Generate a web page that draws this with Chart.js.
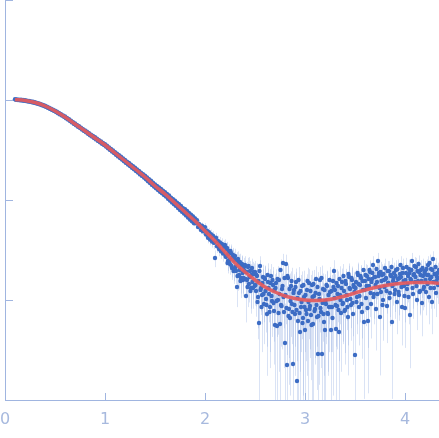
<!DOCTYPE html>
<html><head><meta charset="utf-8">
<script src="https://cdn.jsdelivr.net/npm/chart.js@4/dist/chart.umd.min.js"></script>
<style>html,body{margin:0;padding:0;background:#fff}#wrap{position:relative;width:439px;height:438px}</style>
</head><body><div id="wrap"><canvas id="c"></canvas></div>
<script>
// scattering vector q (x) values
const q = [
0.10,0.11,0.12,0.13,0.14,0.15,0.16,0.17,0.18,0.19,
0.20,0.21,0.22,0.23,0.24,0.25,0.26,0.27,0.28,0.29,
0.30,0.31,0.32,0.33,0.34,0.35,0.36,0.37,0.38,0.39,
0.40,0.41,0.42,0.43,0.44,0.45,0.46,0.47,0.48,0.49,
0.50,0.51,0.52,0.53,0.54,0.55,0.56,0.57,0.58,0.59,
0.60,0.61,0.62,0.63,0.64,0.65,0.66,0.67,0.68,0.69,
0.70,0.71,0.72,0.73,0.74,0.75,0.76,0.77,0.78,0.79,
0.80,0.81,0.82,0.83,0.84,0.85,0.86,0.87,0.88,0.89,
0.90,0.91,0.92,0.93,0.94,0.95,0.96,0.97,0.98,0.99,
1.00,1.01,1.02,1.03,1.04,1.05,1.06,1.07,1.08,1.09,
1.10,1.11,1.12,1.13,1.14,1.15,1.16,1.17,1.18,1.19,
1.20,1.21,1.22,1.23,1.24,1.25,1.26,1.27,1.28,1.29,
1.30,1.31,1.32,1.33,1.34,1.35,1.36,1.37,1.38,1.39,
1.40,1.41,1.42,1.43,1.44,1.45,1.46,1.47,1.48,1.49,
1.50,1.51,1.52,1.53,1.54,1.55,1.56,1.57,1.58,1.59,
1.60,1.61,1.62,1.63,1.64,1.65,1.66,1.67,1.68,1.69,
1.70,1.71,1.72,1.73,1.74,1.75,1.76,1.77,1.78,1.79,
1.80,1.81,1.82,1.83,1.84,1.85,1.86,1.87,1.88,1.89,
1.90,1.91,1.92,1.93,1.94,1.95,1.96,1.97,1.98,1.99,
2.00,2.01,2.02,2.03,2.04,2.05,2.06,2.07,2.08,2.09,
2.10,2.11,2.12,2.13,2.14,2.15,2.16,2.17,2.18,2.19,
2.200,2.205,2.210,2.215,2.220,2.225,2.230,2.235,2.240,2.245,2.250,2.255,2.260,2.265,2.270,2.275,2.280,2.285,2.290,2.295,
2.300,2.305,2.310,2.315,2.320,2.325,2.330,2.335,2.340,2.345,2.350,2.355,2.360,2.365,2.370,2.375,2.380,2.385,2.390,2.395,
2.400,2.405,2.410,2.415,2.420,2.425,2.430,2.435,2.440,2.445,2.450,2.455,2.460,2.465,2.470,2.475,2.480,2.485,2.490,2.495,
2.500,2.505,2.510,2.515,2.520,2.525,2.530,2.535,2.540,2.545,2.550,2.555,2.560,2.565,2.570,2.575,2.580,2.585,2.590,2.595,
2.600,2.605,2.610,2.615,2.620,2.625,2.630,2.635,2.640,2.645,2.650,2.655,2.660,2.665,2.670,2.675,2.680,2.685,2.690,2.695,
2.700,2.705,2.710,2.715,2.720,2.725,2.730,2.735,2.740,2.745,2.750,2.755,2.760,2.765,2.770,2.775,2.780,2.785,2.790,2.795,
2.800,2.805,2.810,2.815,2.820,2.825,2.830,2.835,2.840,2.845,2.850,2.855,2.860,2.865,2.870,2.875,2.880,2.885,2.890,2.895,
2.900,2.905,2.910,2.915,2.920,2.925,2.930,2.935,2.940,2.945,2.950,2.955,2.960,2.965,2.970,2.975,2.980,2.985,2.990,2.995,
3.000,3.005,3.010,3.015,3.020,3.025,3.030,3.035,3.040,3.045,3.050,3.055,3.060,3.065,3.070,3.075,3.080,3.085,3.090,3.095,
3.100,3.105,3.110,3.115,3.120,3.125,3.130,3.135,3.140,3.145,3.150,3.155,3.160,3.165,3.170,3.175,3.180,3.185,3.190,3.195,
3.200,3.205,3.210,3.215,3.220,3.225,3.230,3.235,3.240,3.245,3.250,3.255,3.260,3.265,3.270,3.275,3.280,3.285,3.290,3.295,
3.300,3.305,3.310,3.315,3.320,3.325,3.330,3.335,3.340,3.345,3.350,3.355,3.360,3.365,3.370,3.375,3.380,3.385,3.390,3.395,
3.400,3.405,3.410,3.415,3.420,3.425,3.430,3.435,3.440,3.445,3.450,3.455,3.460,3.465,3.470,3.475,3.480,3.485,3.490,3.495,
3.500,3.505,3.510,3.515,3.520,3.525,3.530,3.535,3.540,3.545,3.550,3.555,3.560,3.565,3.570,3.575,3.580,3.585,3.590,3.595,
3.600,3.605,3.610,3.615,3.620,3.625,3.630,3.635,3.640,3.645,3.650,3.655,3.660,3.665,3.670,3.675,3.680,3.685,3.690,3.695,
3.700,3.705,3.710,3.715,3.720,3.725,3.730,3.735,3.740,3.745,3.750,3.755,3.760,3.765,3.770,3.775,3.780,3.785,3.790,3.795,
3.800,3.805,3.810,3.815,3.820,3.825,3.830,3.835,3.840,3.845,3.850,3.855,3.860,3.865,3.870,3.875,3.880,3.885,3.890,3.895,
3.900,3.905,3.910,3.915,3.920,3.925,3.930,3.935,3.940,3.945,3.950,3.955,3.960,3.965,3.970,3.975,3.980,3.985,3.990,3.995,
4.000,4.005,4.010,4.015,4.020,4.025,4.030,4.035,4.040,4.045,4.050,4.055,4.060,4.065,4.070,4.075,4.080,4.085,4.090,4.095,
4.100,4.105,4.110,4.115,4.120,4.125,4.130,4.135,4.140,4.145,4.150,4.155,4.160,4.165,4.170,4.175,4.180,4.185,4.190,4.195,
4.200,4.205,4.210,4.215,4.220,4.225,4.230,4.235,4.240,4.245,4.250,4.255,4.260,4.265,4.270,4.275,4.280,4.285,4.290,4.295,
4.300,4.305,4.310,4.315,4.320,4.325,4.330,4.335,4.340
];
// measured log10 intensity
const logI = [
3.008,3.002,3.006,2.999,3.004,2.997,3.002,2.995,3.000,2.993,
2.998,2.990,2.994,2.985,2.991,2.982,2.986,2.978,2.982,2.973,
2.978,2.968,2.971,2.961,2.965,2.954,2.958,2.947,2.951,2.940,
2.944,2.931,2.934,2.921,2.924,2.911,2.914,2.901,2.904,2.891,
2.894,2.880,2.882,2.868,2.871,2.856,2.858,2.844,2.846,2.832,
2.835,2.818,2.820,2.804,2.807,2.789,2.792,2.776,2.779,2.761,
2.765,2.748,2.751,2.733,2.737,2.719,2.723,2.705,2.709,2.691,
2.696,2.677,2.682,2.662,2.669,2.648,2.654,2.634,2.641,2.619,
2.627,2.606,2.613,2.591,2.599,2.577,2.585,2.563,2.571,2.549,
2.558,2.534,2.543,2.517,2.526,2.501,2.511,2.485,2.495,2.469,
2.479,2.453,2.463,2.436,2.448,2.420,2.432,2.404,2.416,2.387,
2.400,2.371,2.384,2.355,2.370,2.339,2.352,2.322,2.337,2.307,
2.322,2.289,2.306,2.274,2.291,2.256,2.273,2.241,2.259,2.224,
2.244,2.208,2.226,2.188,2.209,2.170,2.192,2.151,2.173,2.135,
2.156,2.118,2.141,2.099,2.126,2.083,2.110,2.067,2.093,2.050,
2.079,2.034,2.060,2.013,2.045,1.994,2.024,1.976,2.007,1.958,
1.992,1.941,1.974,1.919,1.957,1.900,1.940,1.882,1.919,1.864,
1.907,1.846,1.890,1.824,1.871,1.804,1.854,1.788,1.835,1.768,
1.815,1.768,1.797,1.729,1.761,1.745,1.700,1.744,1.686,1.721,
1.729,1.655,1.694,1.622,1.677,1.604,1.659,1.585,1.642,1.571,
1.42,1.622,1.538,1.591,1.510,1.576,1.488,1.561,1.465,1.533,
1.55,1.44,1.43,1.51,1.52,1.37,1.39,1.46,1.49,1.40,1.36,1.49,1.47,1.34,1.32,1.43,1.45,1.29,1.31,1.40,
1.44,1.33,1.29,1.40,1.13,1.24,1.41,1.37,1.25,1.30,1.38,1.19,1.22,1.35,1.36,1.27,1.20,1.22,1.33,1.29,
1.35,1.21,1.04,1.28,1.20,1.13,1.33,1.34,1.16,1.23,1.29,1.09,1.12,1.25,1.32,1.18,1.12,1.28,1.26,1.14,
1.28,1.15,1.09,1.25,1.24,0.98,1.03,1.19,0.77,1.29,1.34,1.10,1.12,0.93,1.05,1.17,1.23,1.06,0.96,1.22,
1.21,1.09,1.01,0.95,0.86,1.25,1.18,1.12,1.06,0.88,0.93,1.17,1.24,1.04,0.99,1.20,1.15,0.97,0.89,1.10,
0.75,1.12,1.17,0.99,0.74,1.21,1.00,0.87,1.20,1.06,0.76,1.30,0.95,0.94,1.11,1.14,1.37,1.03,0.88,1.22,
0.57,1.05,1.36,0.92,0.35,1.24,1.22,0.84,0.91,1.11,0.82,0.99,1.14,1.19,0.96,0.88,0.36,1.07,1.10,0.95,
0.86,1.13,1.18,0.90,0.19,1.02,0.79,1.20,1.07,0.87,0.68,1.09,0.93,0.98,1.14,0.77,0.82,1.15,1.03,0.93,
0.70,1.05,0.90,0.86,1.10,1.19,0.79,0.98,1.17,0.91,0.94,1.09,0.85,0.75,1.15,1.03,0.76,1.16,1.04,0.89,
0.91,1.07,1.21,0.95,0.83,1.13,0.46,0.84,1.06,1.01,1.20,0.92,0.88,1.22,0.46,0.97,1.11,0.86,0.78,1.10,
0.70,0.99,0.96,1.15,1.14,0.87,0.86,1.05,0.93,1.20,1.08,0.93,0.70,1.09,0.93,0.82,1.19,1.13,1.29,1.02,
1.10,0.95,0.71,1.17,0.94,1.06,1.14,0.90,0.68,1.21,1.05,1.00,0.87,1.12,1.18,0.96,0.97,1.24,1.09,0.89,
0.90,1.19,1.16,1.05,1.00,0.93,0.83,1.26,1.23,1.12,1.11,1.01,0.95,1.22,1.20,0.97,0.86,1.15,1.13,1.08,
0.45,1.12,1.18,0.98,1.03,1.27,1.25,1.16,0.93,1.04,1.15,1.24,1.22,0.96,0.88,1.19,1.10,1.30,0.78,1.10,
1.19,1.25,1.02,1.14,1.24,0.92,0.79,1.21,1.14,1.30,1.28,1.07,0.96,1.18,1.21,1.27,1.35,1.03,1.06,1.23,
1.23,1.15,0.91,1.31,1.18,1.06,1.39,1.24,1.27,1.12,0.83,1.28,1.08,1.19,1.25,0.95,1.00,1.26,1.20,1.13,
1.32,1.21,1.22,1.09,0.94,1.29,1.17,1.17,1.29,1.02,1.07,1.25,1.24,1.33,0.78,1.14,1.19,1.22,1.27,1.06,
1.10,1.24,1.30,1.17,0.98,1.31,1.21,1.08,1.05,1.22,1.26,1.35,1.23,1.13,0.93,1.27,1.32,1.19,1.14,1.04,
0.92,1.20,1.27,1.33,1.11,1.16,1.24,1.03,1.31,1.27,0.85,1.21,1.20,1.30,1.39,1.12,1.06,1.25,1.26,1.34,
1.18,1.23,1.33,1.14,1.00,1.29,1.19,1.36,1.28,1.08,1.09,1.25,1.30,1.19,0.97,1.32,1.24,1.11,1.13,1.27,
1.29,1.20,1.08,1.31,1.25,1.16,1.35,1.25,1.03,1.37,1.21,1.12,1.31,1.23,0.98,1.30,1.41,1.18,1.12,1.26,
1.26,1.33,1.07,1.19,1.23,1.27,1.15,1.22,1.30
];
// experimental error (intensity units)
const sigma = [
2,2,2,2,2,2,2,2,2,2, 2,2,2,2,2,2,2,2,2,2, 2,2,2,2,2,2,2,2,2,2,
2,2,2,2,2,2,2,2,2,2, 2,2,2,2,2,2,2,2,2,2, 2,2,2,2,2,2,2,2,2,2,
2,2,2,2,2,2,2,2,2,2, 2,2,2,2,2,2,2,2,2,2, 2,2,2,2,2,2,2,2,2,2,
3,3,3,3,3,3,3,3,3,3, 3,3,3,3,3,3,3,3,3,3, 3,3,3,3,3,3,3,3,3,3,
3,3,3,3,3,3,3,3,3,3, 3,3,3,3,3,3,3,3,3,3,
4,4,4,4,4,4,4,4,4,4, 4,4,4,4,4,4,4,4,4,4, 4,4,4,4,4,4,4,4,4,4,
4,4,4,4,4,4,4,4,4,4, 4,4,4,4,4,4,4,4,4,4,
5,5,5,5,5,5,5,5,5,5, 5,5,5,5,5,5,5,5,5,5,
5,5,5,5,5,5,5,5,5,5,5,5,5,5,5,5,5,5,5,5,
5,5,5,5,5,5,5,5,5,5,5,5,5,5,5,5,5,5,5,5,
5,5,5,5,5,5,5,5,5,5,5,5,5,5,5,5,5,5,5,5,
5.5,5.5,5.5,5.5,5.5,5.5,5.5,5.5,5.5,5.5,5.5,5.5,5.5,5.5,5.5,5.5,5.5,5.5,5.5,5.5,
5.5,5.5,5.5,5.5,5.5,5.5,5.5,5.5,5.5,5.5,5.5,5.5,5.5,5.5,5.5,5.5,5.5,5.5,5.5,5.5,
5.5,5.5,5.5,5.5,5.5,5.5,5.5,5.5,5.5,5.5,5.5,5.5,5.5,5.5,5.5,5.5,5.5,5.5,5.5,5.5,
5.5,5.5,5.5,5.5,5.5,5.5,5.5,5.5,5.5,5.5,5.5,5.5,5.5,5.5,5.5,5.5,5.5,5.5,5.5,5.5,
5.5,5.5,5.5,5.5,5.5,5.5,5.5,5.5,5.5,5.5,5.5,5.5,5.5,5.5,5.5,5.5,5.5,5.5,5.5,5.5,
5.5,5.5,5.5,5.5,5.5,5.5,5.5,5.5,5.5,5.5,5.5,5.5,5.5,5.5,5.5,5.5,5.5,5.5,5.5,5.5,
5.5,5.5,5.5,5.5,5.5,5.5,5.5,5.5,5.5,5.5,5.5,5.5,5.5,5.5,5.5,5.5,5.5,5.5,5.5,5.5,
5.5,5.5,5.5,5.5,5.5,5.5,5.5,5.5,5.5,5.5,5.5,5.5,5.5,5.5,5.5,5.5,5.5,5.5,5.5,5.5,
5.5,5.5,5.5,5.5,5.5,5.5,5.5,5.5,5.5,5.5,5.5,5.5,5.5,5.5,5.5,5.5,5.5,5.5,5.5,5.5,
5,5,5,5,5,5,5,5,5,5,5,5,5,5,5,5,5,5,5,5,
5,5,5,5,5,5,5,5,5,5,5,5,5,5,5,5,5,5,5,5,
5,5,5,5,5,5,5,5,5,5,5,5,5,5,5,5,5,5,5,5,
5,5,5,5,5,5,5,5,5,5,5,5,5,5,5,5,5,5,5,5,
5,5,5,5,5,5,5,5,5,5,5,5,5,5,5,5,5,5,5,5,
5,5,5,5,5,5,5,5,5,5,5,5,5,5,5,5,5,5,5,5,
5,5,5,5,5,5,5,5,5,5,5,5,5,5,5,5,5,5,5,5,
5,5,5,5,5,5,5,5,5,5,5,5,5,5,5,5,5,5,5,5,
5,5,5,5,5,5,5,5,5,5,5,5,5,5,5,5,5,5,5,5,
5,5,5,5,5,5,5,5,5
];
// model fit curve
const fitQ = [0.1,0.2,0.3,0.4,0.5,0.6,0.7,0.8,0.9,1.0,1.1,1.2,1.3,1.4,1.5,1.6,1.7,1.8,1.9,2.0,2.1,2.2,2.3,2.4,2.5,2.6,2.7,2.8,2.9,3.0,3.1,3.2,3.3,3.4,3.5,3.6,3.7,3.8,3.9,4.0,4.1,4.2,4.3,4.34];
const fitLogI = [3.005,2.995,2.975,2.94,2.89,2.83,2.76,2.69,2.62,2.55,2.47,2.39,2.31,2.23,2.14,2.06,1.97,1.88,1.79,1.69,1.59,1.48,1.37,1.28,1.20,1.13,1.08,1.04,1.015,1.00,0.995,1.00,1.015,1.04,1.07,1.10,1.125,1.145,1.16,1.17,1.175,1.175,1.17,1.167];
// axis ticks
const xTicks = [0,1,2,3,4];
const xTickLabels = ['0','1','2','3','4'];
const yTicks = [1,2,3,4];

const AXIS = '#a0b5e0';
const LABEL = '#a7b9de';

const errorBars = {
  id: 'errorBars',
  beforeDatasetsDraw(chart) {
    const {ctx, chartArea: a, scales: {x, y}} = chart;
    ctx.save();
    ctx.beginPath();
    ctx.rect(a.left, a.top, a.right - a.left, a.bottom - a.top);
    ctx.clip();
    ctx.strokeStyle = 'rgba(150,175,225,0.35)';
    ctx.lineWidth = 1;
    const n = Math.min(q.length, logI.length, sigma.length);
    for (let i = 0; i < n; i++) {
      const I = Math.pow(10, logI[i]);
      const hi = Math.log10(I + sigma[i]);
      const lo = (I - sigma[i]) > 0 ? Math.log10(I - sigma[i]) : y.min;
      const px = Math.round(x.getPixelForValue(q[i])) + 0.5;
      ctx.beginPath();
      ctx.moveTo(px, y.getPixelForValue(hi));
      ctx.lineTo(px, y.getPixelForValue(lo));
      ctx.stroke();
    }
    ctx.restore();
  }
};

const innerTicks = {
  id: 'innerTicks',
  afterDraw(chart) {
    const {ctx, chartArea: a, scales: {x, y}} = chart;
    ctx.save();
    ctx.strokeStyle = AXIS;
    ctx.lineWidth = 1;
    ctx.beginPath();
    xTicks.forEach(v => {
      const px = Math.round(x.getPixelForValue(v)) + 0.5;
      ctx.moveTo(px, a.bottom);
      ctx.lineTo(px, a.bottom - 7);
    });
    yTicks.forEach(v => {
      const py = Math.round(y.getPixelForValue(v)) + 0.5;
      ctx.moveTo(a.left, py);
      ctx.lineTo(a.left + 8, py);
    });
    ctx.stroke();
    ctx.restore();
  }
};

function zeroPad(s) { s.paddingLeft = 0; s.paddingRight = 0; s.paddingTop = 0; s.paddingBottom = 0; }

new Chart(document.getElementById('c'), {
  type: 'scatter',
  data: {
    datasets: [
      {
        type: 'line',
        data: fitQ.map((v, i) => ({x: v, y: fitLogI[i]})),
        borderColor: 'rgba(228,90,92,0.92)',
        borderWidth: 3.5,
        pointRadius: 0,
        fill: false,
        cubicInterpolationMode: 'monotone'
      },
      {
        type: 'scatter',
        data: q.map((v, i) => ({x: v, y: logI[i]})),
        backgroundColor: '#3c6cc4',
        borderWidth: 0,
        pointRadius: 2.2
      }
    ]
  },
  options: {
    responsive: true,
    maintainAspectRatio: false,
    animation: false,
    events: [],
    layout: {autoPadding: false, padding: {left: 5, top: 0, right: 0, bottom: 0}},
    plugins: {legend: {display: false}, tooltip: {enabled: false}},
    scales: {
      x: {
        type: 'linear', min: 0, max: 4.34,
        afterBuildTicks: s => { s.ticks = xTicks.map(v => ({value: v})); },
        afterFit: s => { s.height = 38; zeroPad(s); },
        ticks: {
          callback: v => xTickLabels[xTicks.indexOf(v)],
          font: {family: 'DejaVu Sans', size: 16},
          color: LABEL, padding: 10, maxRotation: 0, autoSkip: false
        },
        grid: {display: false, drawTicks: false},
        border: {display: true, color: AXIS, width: 1}
      },
      y: {
        type: 'linear', min: 0, max: 4,
        afterFit: s => { s.width = 0; zeroPad(s); },
        ticks: {display: false},
        grid: {display: false, drawTicks: false},
        border: {display: true, color: AXIS, width: 1}
      }
    }
  },
  plugins: [errorBars, innerTicks]
});
</script>
</body></html>
